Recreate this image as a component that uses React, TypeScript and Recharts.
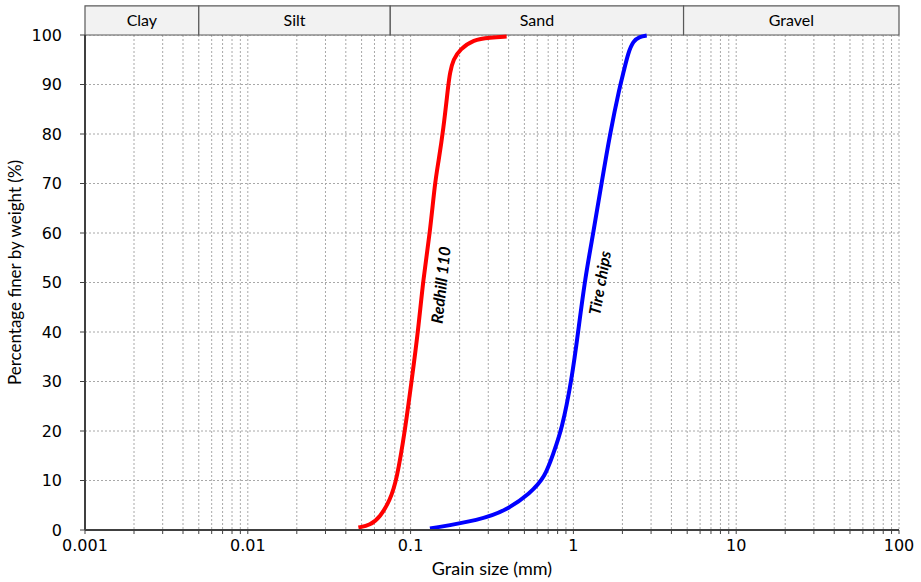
import React from 'react';
import {
  LineChart,
  Line,
  XAxis,
  YAxis,
  CartesianGrid,
  ReferenceArea,
  ReferenceDot,
} from 'recharts';

// Grain size (mm) and percentage finer (%)
const redhillSize = [0.0478, 0.0564, 0.0649, 0.0747, 0.0822, 0.0925, 0.1016, 0.1114, 0.1197, 0.1315, 0.141, 0.148, 0.159, 0.1705, 0.1745, 0.183, 0.201, 0.243, 0.308, 0.389];
const redhillPct = [0.5, 0.95, 2.6, 6.0, 10.1, 20.2, 30.3, 40.4, 50.9, 60.0, 70.1, 74.2, 80.9, 90.0, 92.4, 95.1, 97.1, 99.1, 99.5, 99.7];

const tireSize = [0.1315, 0.267, 0.389, 0.542, 0.67, 0.753, 0.848, 0.976, 1.07, 1.18, 1.33, 1.49, 1.68, 1.93, 2.03, 2.17, 2.33, 2.56, 2.82];
const tirePct = [0.3, 2.0, 4.0, 7.4, 10.7, 15.5, 20.2, 30.3, 40.1, 50.9, 60.3, 70.1, 80.2, 89.7, 92.4, 96.4, 98.8, 99.7, 99.9];

// Soil classes across the top band
const bandNames = ['Clay', 'Silt', 'Sand', 'Gravel'];
const bandFrom = [0.001, 0.005, 0.075, 4.75];
const bandTo = [0.005, 0.075, 4.75, 100];

// Axis ticks
const decades = [0.001, 0.01, 0.1, 1, 10];
const multipliers = [1, 2, 3, 4, 5, 6, 7, 8, 9];
const decadeLabels = ['0.001', '0.01', '0.1', '1', '10', '100'];
const yTicks = [0, 10, 20, 30, 40, 50, 60, 70, 80, 90, 100];

const xTicks: number[] = [];
decades.forEach((d) => multipliers.forEach((m) => xTicks.push(+(d * m).toPrecision(6))));
xTicks.push(100);
const labelValues = [0.001, 0.01, 0.1, 1, 10, 100];

const redhillData = redhillSize.map((s, i) => ({ size: s, pct: redhillPct[i] }));
const tireData = tireSize.map((s, i) => ({ size: s, pct: tirePct[i] }));

const FONT = 'Lato, "Open Sans", sans-serif';
const TICKFONT = '"DejaVu Sans", sans-serif';
const AXIS = '#404040';

export default function App() {
  return (
    <div style={{ position: 'absolute', left: 0, top: 0, background: '#fff' }}>
      <LineChart
        width={921}
        height={582}
        margin={{ top: 35, right: 22, bottom: 0, left: 0 }}
      >
        <CartesianGrid
          stroke="#a8a8a8"
          strokeDasharray="2 2"
        />
        <XAxis
          dataKey="size"
          type="number"
          scale="log"
          domain={[0.001, 100]}
          allowDataOverflow
          ticks={xTicks}
          interval={0}
          height={52}
          stroke={AXIS}
          axisLine={{ stroke: AXIS, strokeWidth: 2 }}
          tickLine={{ stroke: AXIS }}
          tickSize={4}
          tickMargin={6}
          tick={{ fill: '#000', fontSize: 16, fontFamily: TICKFONT }}
          tickFormatter={(v: number) => {
            const idx = labelValues.findIndex((l) => Math.abs(l - v) / l < 1e-6);
            return idx >= 0 ? decadeLabels[idx] : '';
          }}
          label={{
            value: 'Grain size (mm)',
            position: 'insideBottom',
            offset: 7,
            style: { fill: '#000', fontSize: 18, fontFamily: FONT },
          }}
        />
        <YAxis
          type="number"
          domain={[0, 100]}
          ticks={yTicks}
          interval={0}
          width={85}
          stroke={AXIS}
          axisLine={{ stroke: AXIS, strokeWidth: 2 }}
          tickLine={{ stroke: AXIS }}
          tickSize={5}
          tickMargin={18}
          tick={{ fill: '#000', fontSize: 16, fontFamily: TICKFONT }}
          label={{
            value: 'Percentage finer by weight (%)',
            position: 'insideLeft',
            angle: -90,
            offset: 15,
            dy: -10,
            style: { textAnchor: 'middle', fill: '#000', fontSize: 17, fontFamily: FONT },
          }}
        />
        <YAxis
          yAxisId="right"
          orientation="right"
          type="number"
          domain={[0, 100]}
          ticks={yTicks}
          interval={0}
          width={0}
          mirror
          stroke={AXIS}
          axisLine={{ stroke: AXIS, strokeWidth: 1.5 }}
          tickLine={{ stroke: AXIS }}
          tickSize={4}
          tickFormatter={() => ''}
        />
        {bandNames.map((name, i) => (
          <ReferenceArea
            key={name}
            x1={bandFrom[i]}
            x2={bandTo[i]}
            y1={100}
            y2={105.9}
            ifOverflow="visible"
            fill="#f2f2f2"
            fillOpacity={1}
            stroke="#595959"
            strokeWidth={1.2}
            label={{
              value: name,
              position: 'center',
              style: { fill: '#000', fontSize: 16, fontFamily: FONT },
            }}
          />
        ))}
        <Line
          data={redhillData}
          dataKey="pct"
          type="basis"
          stroke="#ff0000"
          strokeWidth={4}
          dot={false}
          activeDot={false}
          isAnimationActive={false}
        />
        <Line
          data={tireData}
          dataKey="pct"
          type="basis"
          stroke="#0000ff"
          strokeWidth={4}
          dot={false}
          activeDot={false}
          isAnimationActive={false}
        />
        <ReferenceDot
          x={0.1537}
          y={49.5}
          r={0}
          fill="none"
          stroke="none"
          ifOverflow="visible"
          label={{
            value: 'Redhill 110',
            position: 'center',
            angle: -84,
            style: { fill: '#000', fontSize: 16, fontWeight: 'bold', fontStyle: 'italic', fontFamily: FONT },
          }}
        />
        <ReferenceDot
          x={1.457}
          y={49.9}
          r={0}
          fill="none"
          stroke="none"
          ifOverflow="visible"
          label={{
            value: 'Tire chips',
            position: 'center',
            angle: -80,
            style: { fill: '#000', fontSize: 16, fontWeight: 'bold', fontStyle: 'italic', fontFamily: FONT },
          }}
        />
      </LineChart>
    </div>
  );
}
